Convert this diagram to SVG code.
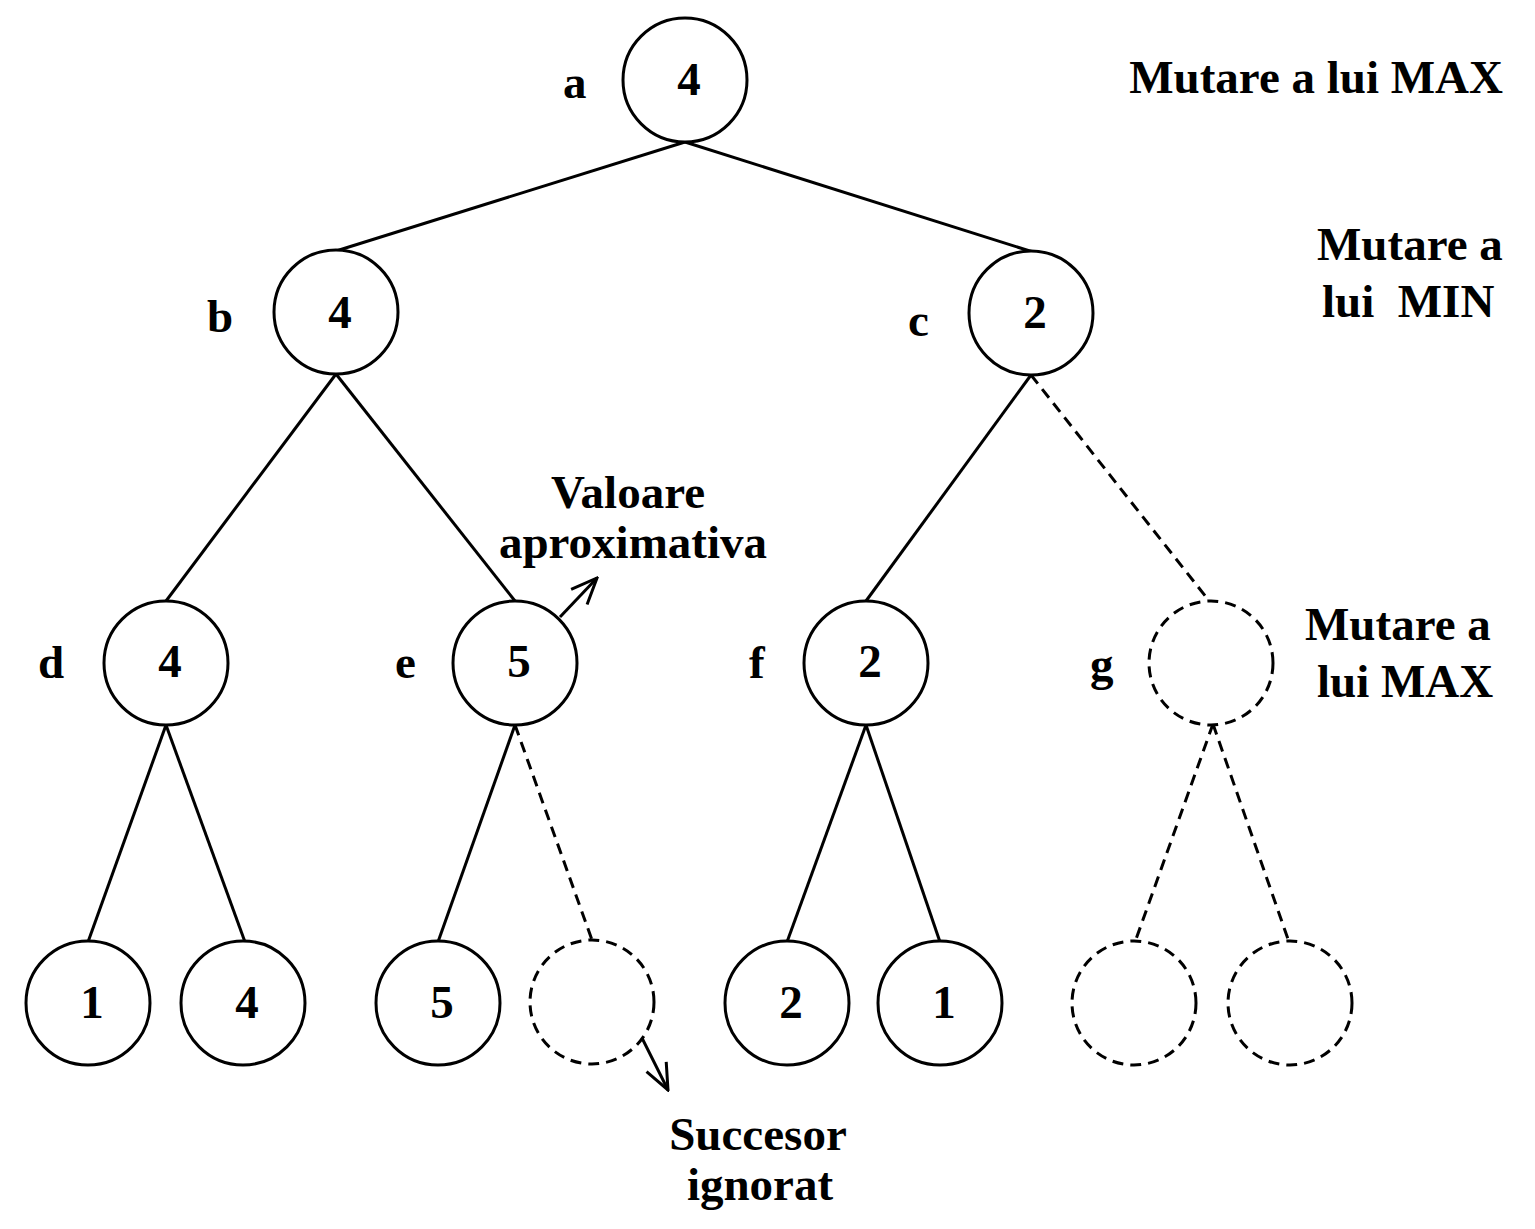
<svg xmlns="http://www.w3.org/2000/svg" width="1535" height="1229" viewBox="0 0 1535 1229">
<style>
text{font-family:"Liberation Serif","Times New Roman",serif;font-weight:bold;font-size:47px;fill:#000}
.n{fill:#fff;stroke:#000;stroke-width:3}
.d{fill:#fff;stroke:#000;stroke-width:3;stroke-dasharray:11 7}
.v{text-anchor:middle}
.e{stroke:#000;stroke-width:3;fill:none}
.ed{stroke:#000;stroke-width:3;fill:none;stroke-dasharray:11 7}
</style>
<defs>
<marker id="arr" viewBox="0 0 30 26" refX="28" refY="13" markerWidth="30" markerHeight="26" markerUnits="userSpaceOnUse" orient="auto">
<path d="M2,2 L28,13 L2,24" fill="none" stroke="#000" stroke-width="3"/>
</marker>
</defs>
<rect width="1535" height="1229" fill="#fff"/>
<g id="connectors">
<line class="e" x1="685" y1="142" x2="336" y2="251"/>
<line class="e" x1="685" y1="142" x2="1033" y2="252"/>
<line class="e" x1="336" y1="374" x2="166" y2="601"/>
<line class="e" x1="336" y1="374" x2="515" y2="601"/>
<line class="e" x1="1031" y1="375" x2="866" y2="601"/>
<line class="ed" x1="1031" y1="375" x2="1210" y2="602"/>
<line class="e" x1="166" y1="725" x2="88" y2="942"/>
<line class="e" x1="166" y1="725" x2="245" y2="942"/>
<line class="e" x1="515" y1="725" x2="438" y2="942"/>
<line class="ed" x1="515" y1="725" x2="592" y2="940"/>
<line class="e" x1="866" y1="725" x2="787" y2="942"/>
<line class="e" x1="866" y1="725" x2="940" y2="942"/>
<line class="ed" x1="1213" y1="724" x2="1135" y2="942"/>
<line class="ed" x1="1213" y1="724" x2="1289" y2="942"/>
<line class="e" x1="560" y1="617" x2="597" y2="578" marker-end="url(#arr)"/>
<line class="e" x1="642" y1="1038" x2="668" y2="1090" marker-end="url(#arr)"/>
</g>
<g id="node-a"><circle class="n" cx="685" cy="80" r="62"/><text x="689" y="95" class="v">4</text><text x="563" y="98">a</text></g>
<g id="node-b"><circle class="n" cx="336" cy="312" r="62"/><text x="340" y="328" class="v">4</text><text x="207" y="332">b</text></g>
<g id="node-c"><circle class="n" cx="1031" cy="313" r="62"/><text x="1035" y="328" class="v">2</text><text x="908" y="336">c</text></g>
<g id="node-d"><circle class="n" cx="166" cy="663" r="62"/><text x="170" y="677" class="v">4</text><text x="38" y="678">d</text></g>
<g id="node-e"><circle class="n" cx="515" cy="663" r="62"/><text x="519" y="677" class="v">5</text><text x="395" y="678">e</text></g>
<g id="node-f"><circle class="n" cx="866" cy="663" r="62"/><text x="870" y="677" class="v">2</text><text x="749" y="678">f</text></g>
<g id="node-g"><circle class="d" cx="1211" cy="663" r="62"/><text x="1090" y="680">g</text></g>
<g id="leaf-d1"><circle class="n" cx="88" cy="1003" r="62"/><text x="92" y="1018" class="v">1</text></g>
<g id="leaf-d2"><circle class="n" cx="243" cy="1003" r="62"/><text x="247" y="1018" class="v">4</text></g>
<g id="leaf-e1"><circle class="n" cx="438" cy="1003" r="62"/><text x="442" y="1018" class="v">5</text></g>
<g id="leaf-e2"><circle class="d" cx="592" cy="1002" r="62"/></g>
<g id="leaf-f1"><circle class="n" cx="787" cy="1003" r="62"/><text x="791" y="1018" class="v">2</text></g>
<g id="leaf-f2"><circle class="n" cx="940" cy="1003" r="62"/><text x="944" y="1018" class="v">1</text></g>
<g id="leaf-g1"><circle class="d" cx="1134" cy="1003" r="62"/></g>
<g id="leaf-g2"><circle class="d" cx="1290" cy="1003" r="62"/></g>
<g id="labels">
<text x="1503" y="93" text-anchor="end">Mutare a lui MAX</text>
<text x="1317" y="260">Mutare a</text>
<text x="1322" y="317" xml:space="preserve">lui  MIN</text>
<text x="1305" y="640">Mutare a</text>
<text x="1317" y="697">lui MAX</text>
<text x="628" y="508" class="v">Valoare</text>
<text x="633" y="558" class="v">aproximativa</text>
<text x="758" y="1150" class="v">Succesor</text>
<text x="760" y="1200" class="v">ignorat</text>
</g>
</svg>
